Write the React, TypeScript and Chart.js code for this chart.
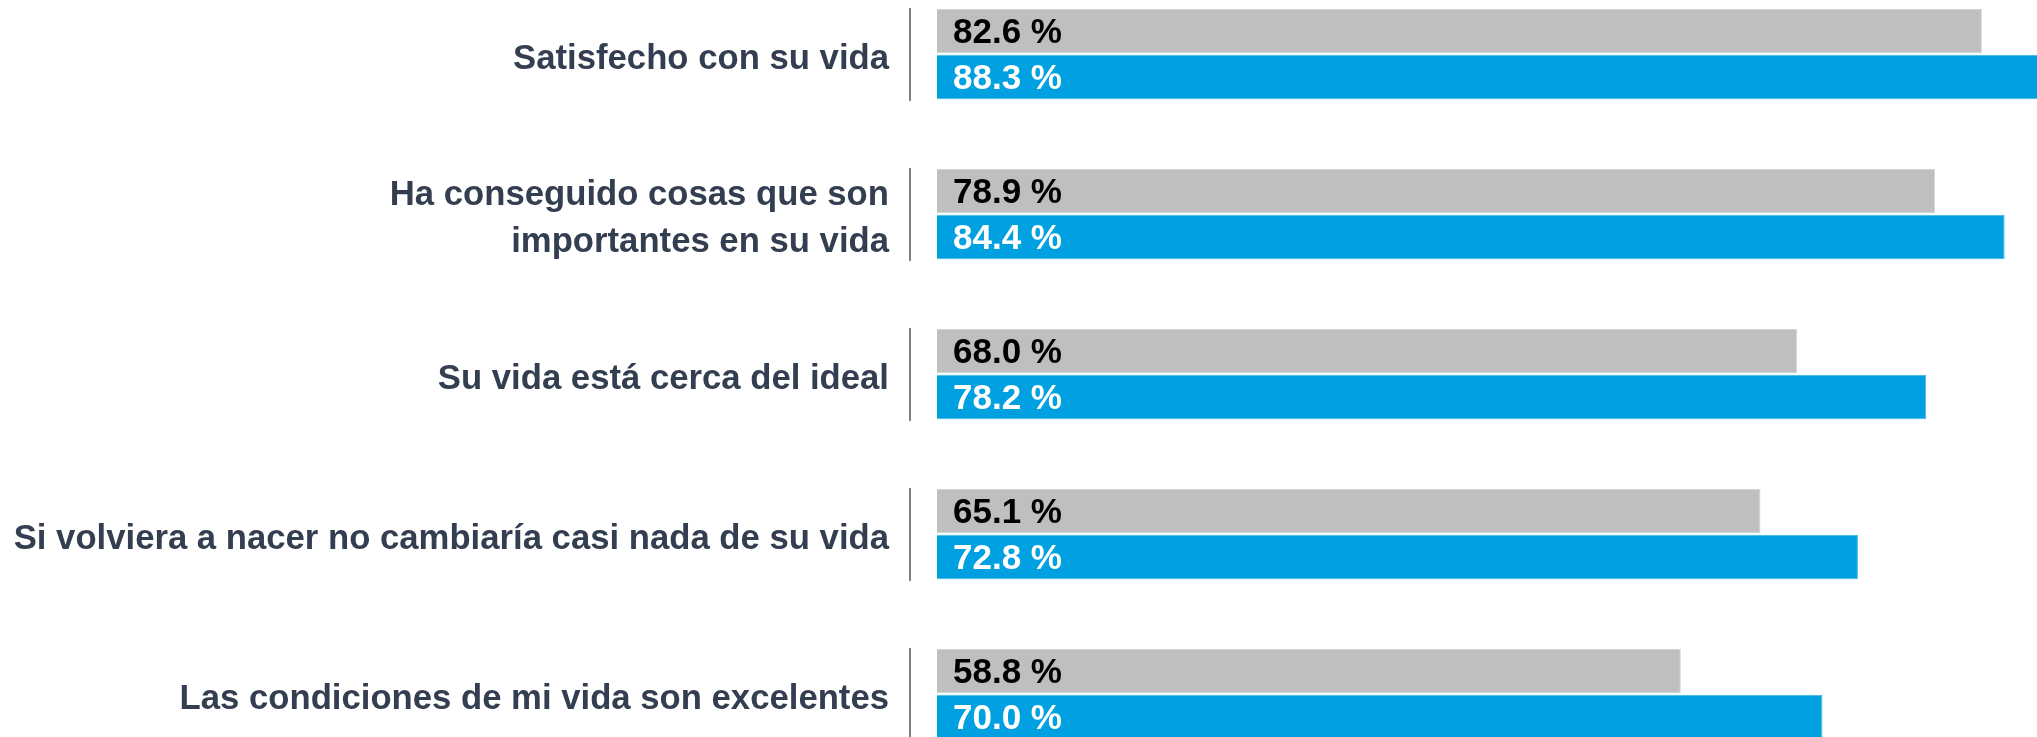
import React, { useEffect, useRef } from "react";
import { Chart, registerables } from "chart.js";

Chart.register(...registerables);

const categories: (string | string[])[] = [
  "Satisfecho con su vida",
  ["Ha conseguido cosas que son", "importantes en su vida"],
  "Su vida está cerca del ideal",
  "Si volviera a nacer no cambiaría casi nada de su vida",
  "Las condiciones de mi vida son excelentes",
];
const seriesGrey = [82.6, 78.9, 68.0, 65.1, 58.8];
const seriesBlue = [88.3, 84.4, 78.2, 72.8, 70.0];

const FONT = "'Liberation Sans', Arial, sans-serif";

const segmentPlugin = {
  id: "segments",
  afterDatasetsDraw(chart: any) {
    const { ctx, chartArea, scales } = chart;
    const y = scales.y;
    ctx.save();
    ctx.strokeStyle = "#7F7F7F";
    ctx.lineWidth = 2;
    for (let i = 0; i < categories.length; i++) {
      const cy = y.getPixelForValue(i);
      const x = chartArea.left - 27;
      ctx.beginPath();
      ctx.moveTo(x, cy - 46);
      ctx.lineTo(x, cy + 47);
      ctx.stroke();
    }
    ctx.restore();
  },
};

const labelPlugin = {
  id: "valueLabels",
  afterDatasetsDraw(chart: any) {
    const { ctx } = chart;
    ctx.save();
    ctx.font = `bold 35px ${FONT}`;
    ctx.textAlign = "left";
    ctx.textBaseline = "middle";
    chart.data.datasets.forEach((ds: any, di: number) => {
      const meta = chart.getDatasetMeta(di);
      meta.data.forEach((bar: any, i: number) => {
        const v = ds.data[i] as number;
        ctx.fillStyle = di === 0 ? "#000000" : "#FFFFFF";
        ctx.fillText(v.toFixed(1) + " %", bar.base + 16, bar.y + 2);
      });
    });
    ctx.restore();
  },
};

export default function App() {
  const ref = useRef<HTMLCanvasElement>(null);
  useEffect(() => {
    if (!ref.current) return;
    const chart = new Chart(ref.current, {
      type: "bar",
      data: {
        labels: categories,
        datasets: [
          {
            data: seriesGrey,
            backgroundColor: "#BFBFBF",
            borderColor: "#D4D4D4",
            borderWidth: 1,
            categoryPercentage: 0.575,
            barPercentage: 0.965,
          },
          {
            data: seriesBlue,
            backgroundColor: "#00A0E1",
            borderColor: "#3DB5EA",
            borderWidth: 1,
            categoryPercentage: 0.575,
            barPercentage: 0.965,
          },
        ],
      },
      options: {
        indexAxis: "y",
        animation: false,
        responsive: true,
        maintainAspectRatio: false,
        devicePixelRatio: 1,
        layout: { padding: 0 },
        plugins: {
          legend: { display: false },
          tooltip: { enabled: false },
        },
        scales: {
          x: {
            display: false,
            min: 0,
            max: 100,
          },
          y: {
            afterFit(scale: any) {
              scale.width = 937;
              scale.paddingTop = 0;
              scale.paddingBottom = 0;
            },
            grid: { display: false, drawTicks: false },
            border: { display: false },
            ticks: {
              padding: 48,
              labelOffset: 5,
              color: "#333F50",
              font: { family: FONT, size: 34.7, weight: "bold", lineHeight: 1.35 },
              autoSkip: false,
            },
          },
        },
      },
      plugins: [segmentPlugin, labelPlugin],
    } as any);
    return () => chart.destroy();
  }, []);
  return (
    <div style={{ position: "fixed", left: 0, top: 0, width: "100vw", height: "100vh", overflow: "hidden", background: "#fff" }}>
      <div style={{ position: "absolute", left: 0, top: -26, width: 2202, height: 800 }}>
        <canvas ref={ref} />
      </div>
    </div>
  );
}
